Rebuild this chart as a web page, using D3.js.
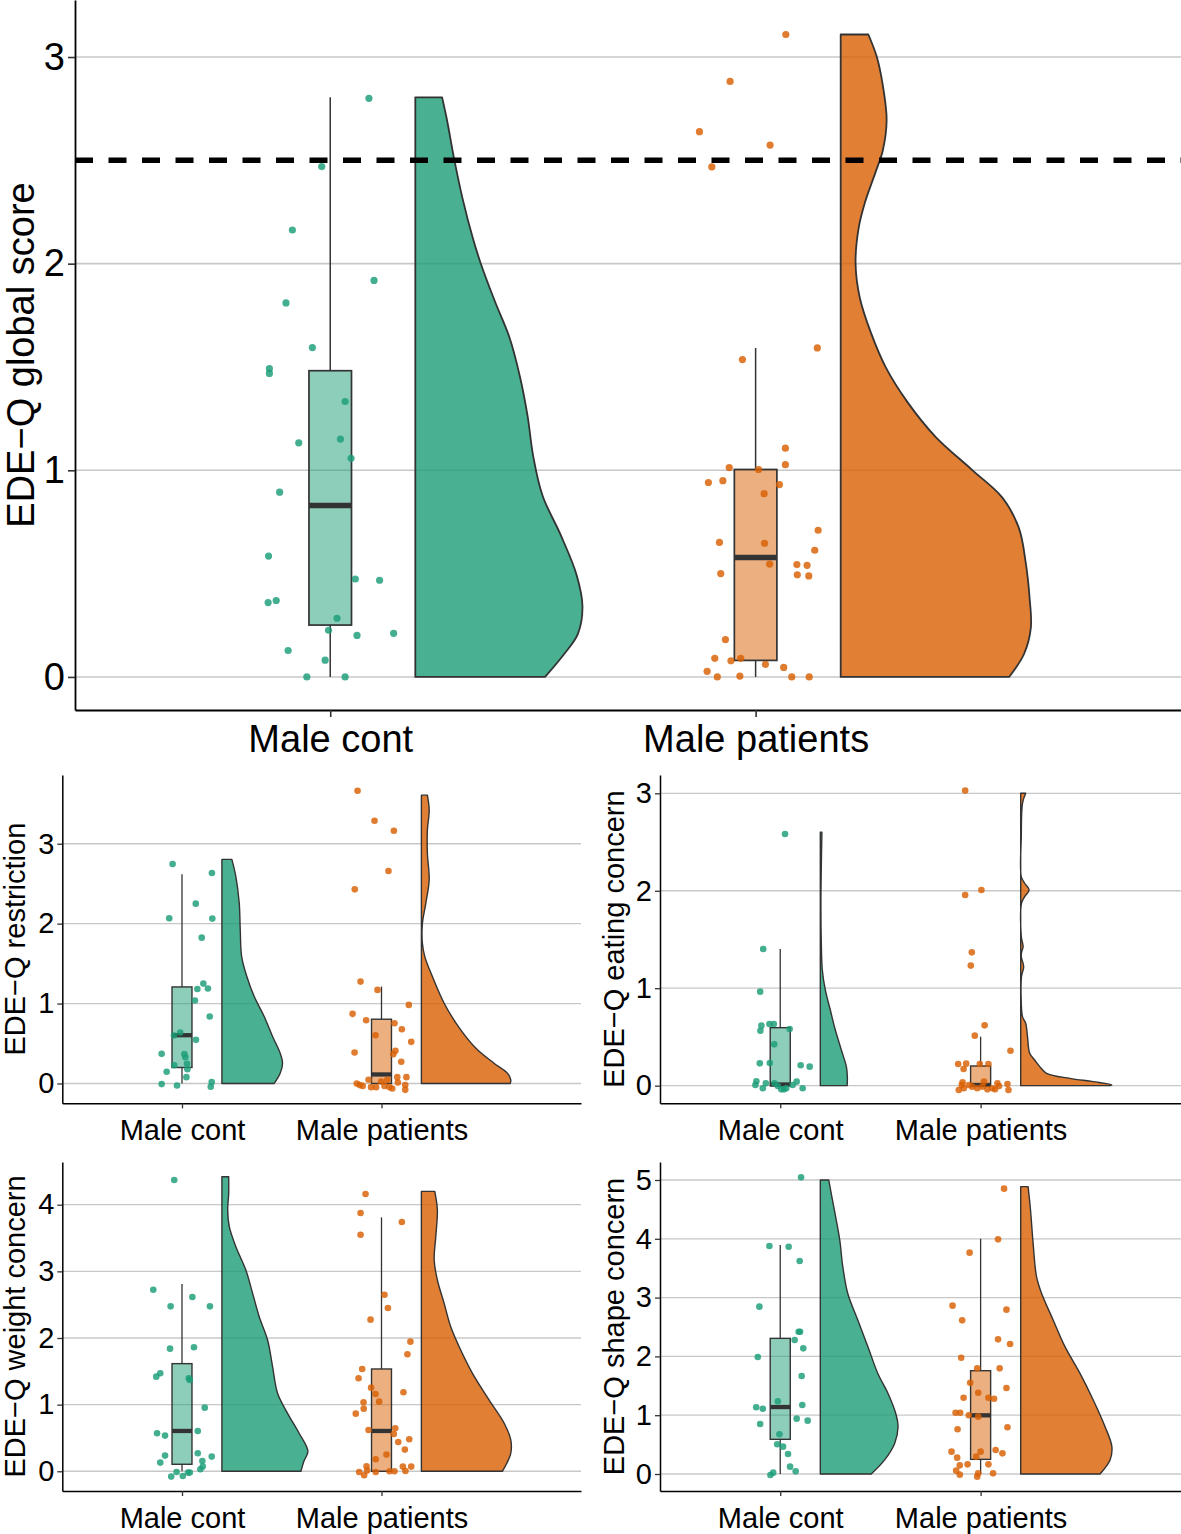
<!DOCTYPE html>
<html>
<head>
<meta charset="utf-8">
<script src="https://cdn.jsdelivr.net/npm/d3@7"></script>
<style>
  body { margin: 0; background: #fff; }
  text { font-family: "Liberation Sans", Arial, sans-serif; }
</style>
</head>
<body>
<div id="chart"></div>
<script>
// ---- data ----
var categories = ["Male cont", "Male patients"];
var colors = ["#1B9E77", "#D95F02"];

// points: [score, horizontal jitter in category units]
var globalContPts = [[2.80,.091],[2.47,-.020],[2.163,-.089],[1.919,.103],[1.81,-.104],[1.594,-.042],[1.492,-.143],[1.469,-.143],[1.333,.035],[1.133,-.074],[1.151,.024],[1.058,.049],[0.894,-.119],[0.585,-.145],[0.474,.059],[0.468,.116],[0.360,-.146],[0.370,-.127],[0.284,.016],[0.226,-.004],[0.201,.063],[0.211,.149],[0.128,-.099],[0.081,-.012],[0,-.055],[0,.035]];
var globalPatPts = [[3.109,.071],[2.882,-.060],[2.639,-.132],[2.574,.034],[2.468,-.103],[1.592,.145],[1.536,-.031],[1.107,.070],[1.027,.070],[1.013,-.062],[1.004,.007],[0.941,-.111],[0.950,-.077],[0.931,.056],[0.887,.020],[0.710,.147],[0.651,-.085],[0.647,.021],[0.613,.139],[0.546,.033],[0.544,.097],[0.540,.121],[0.5,-.082],[0.494,.098],[0.489,.125],[0.181,-.071],[0.09,-.096],[0.078,-.058],[0.09,-.035],[0.027,-.114],[0,-.090],[0.004,-.037],[0.061,.023],[0.046,.066],[0,.085],[0,.126]];
var restrContPts = [[2.746,-.047],[2.633,.150],[2.25,.069],[2.067,-.064],[2.063,.152],[1.825,.099],[1.25,.107],[1.183,.077],[1.188,.130],[1.038,.065],[0.838,.139],[0.638,-.009],[0.6,-.040],[0.546,.070],[0.371,-.102],[0.367,.012],[0.329,.017],[0.246,.025],[0.146,-.077],[0.229,-.039],[0.179,.027],[0.079,.022],[-0.008,-.102],[-0.025,-.025],[0.017,.149],[-0.04,.144]];
var restrPatPts = [[3.663,-.120],[3.288,-.035],[3.163,.062],[2.658,.035],[2.429,-.134],[1.275,-.105],[1.171,-.020],[0.983,.137],[0.871,-.145],[0.792,-.077],[0.754,.065],[0.679,.102],[0.604,-.030],[0.521,.149],[0.388,-.135],[0.408,.070],[0.367,.059],[0.271,.099],[0.079,.125],[0.079,.079],[0.046,-.065],[0,-.124],[-0.02,-.109],[-0.03,-.094],[-0.046,-.052],[-0.046,-.027],[-0.03,.015],[-0.046,.040],[-0.063,.054],[0.013,.082],[-0.02,.119],[-0.08,.119],[0.025,-.002],[0.046,.029]];
var eatContPts = [[2.583,.024],[1.403,-.085],[0.965,-.100],[0.616,-.094],[0.564,-.099],[0.633,-.054],[0.633,-.032],[0.582,.047],[0.424,-.030],[0.229,-.102],[0.233,-.052],[0.209,.102],[0.195,.147],[0.044,-.119],[0.007,-.124],[-0.027,-.087],[0.024,-.072],[0.024,-.029],[-0.038,.005],[-0.038,.019],[-0.027,.030],[0.007,.062],[0.041,.082],[-0.027,.112],[-0.003,-.012]];
var eatPatPts = [[3.028,-.077],[2.008,.004],[1.957,-.077],[1.368,-.044],[1.232,-.049],[0.619,.020],[0.513,-.029],[0.359,.149],[0.222,-.112],[0.226,-.072],[0.171,-.085],[0.222,-.004],[0.222,.039],[0.034,-.090],[0.007,-.094],[-0.044,-.109],[-0.027,-.084],[-0.01,-.042],[-0.027,-.017],[-0.01,.009],[-0.038,.034],[-0.027,.059],[0.024,.084],[-0.003,.092],[0.017,.134],[-0.044,.139],[-0.038,.072],[0.041,.017],[0.007,-.059]];
var weightContPts = [[4.37,-.039],[2.725,-.144],[2.615,.052],[2.475,-.057],[2.475,.140],[1.84,-.060],[1.86,.060],[1.42,-.129],[1.47,-.109],[1.395,.034],[1.37,.039],[0.955,.114],[0.57,-.125],[0.535,-.085],[0.605,.079],[0.27,.079],[0.235,-.085],[0.22,.149],[0.13,-.109],[0.155,.102],[0.07,.104],[0.03,.092],[-0.08,-.054],[-0.01,-.027],[-0.07,.004],[-0.02,.030],[-0.02,.039]];
var weightPatPts = [[4.16,-.080],[3.875,-.105],[3.74,.102],[3.55,-.105],[2.65,.015],[2.45,.032],[2.275,-.055],[1.945,.145],[1.755,.130],[1.535,-.097],[1.395,-.115],[1.255,-.052],[1.16,-.030],[1.185,.110],[1.045,-.012],[1.035,-.090],[0.94,-.089],[0.865,-.129],[0.62,-.065],[0.645,.069],[0.56,.062],[0.44,.084],[0.48,.139],[0.325,.117],[0.25,.025],[0.18,-.029],[0.075,-.075],[-0.01,-.112],[-0.06,-.087],[-0.01,-.029],[0,.040],[0,.065],[0.07,.107],[0.005,.120],[0.07,.149],[0.01,-.072]];
var shapeContPts = [[5.045,.104],[3.878,-.054],[3.866,.042],[3.622,.097],[2.846,-.104],[2.42,.099],[2.42,.092],[2.279,.072],[2.137,.115],[1.99,-.112],[1.667,.107],[1.236,-.012],[1.173,.110],[1.134,-.120],[1.111,-.087],[0.941,.082],[0.907,.137],[0.85,-.100],[0.675,-.004],[0.505,-.015],[0.465,.014],[0.34,.039],[0.125,.049],[0.045,.077],[-0.017,-.049],[0.023,-.035]];
var shapePatPts = [[4.853,.117],[3.991,.087],[3.764,-.055],[2.863,-.140],[2.795,.129],[2.613,-.092],[2.29,.087],[2.211,.147],[1.978,-.097],[1.797,.095],[1.797,-.017],[1.553,-.052],[1.463,.129],[1.383,-.012],[1.298,-.085],[1.298,.039],[1.281,.067],[1.043,-.125],[1.043,-.102],[0.998,-.059],[0.975,-.012],[0.76,-.115],[0.794,.134],[0.38,-.145],[0.408,.075],[0.351,.109],[0.38,0],[0.278,-.117],[0.295,-.022],[0.164,-.065],[0.147,-.104],[0.164,.039],[0.057,-.122],[-0.011,-.104],[0.011,-.012],[-0.045,-.017],[0.011,.062]];

// box stats: [lower whisker, q1, median, q3, upper whisker]
var globalContBox = [0, 0.251, 0.83, 1.482, 2.805];
var globalPatBox = [0, 0.08, 0.578, 1.004, 1.592];
var restrContBox = [0, 0.2, 0.604, 1.208, 2.617];
var restrPatBox = [0, 0, 0.113, 0.804, 1.213];
var eatContBox = [0, 0, 0.012, 0.595, 1.403];
var eatPatBox = [0, 0, 0.007, 0.202, 0.503];
var weightContBox = [0, 0.105, 0.605, 1.615, 2.81];
var weightPatBox = [0, 0, 0.605, 1.535, 3.81];
var shapeContBox = [0, 0.59, 1.139, 2.307, 3.895];
var shapePatBox = [0, 0.249, 0.998, 1.757, 4.0];

// half-violin outline: [score, density width in category units]
var globalContVio = [[2.805,.063],[2.70,.074],[2.50,.092],[2.316,.111],[2.125,.135],[2.0,.154],[1.818,.187],[1.645,.221],[1.453,.246],[1.262,.264],[1.07,.277],[0.878,.299],[0.686,.342],[0.495,.379],[0.341,.393],[0.207,.382],[0.111,.350],[0,.305]];
var globalPatVio = [[3.109,.065],[3.0,.085],[2.863,.099],[2.695,.108],[2.548,.099],[2.443,.082],[2.296,.057],[2.17,.042],[2.0,.035],[1.834,.045],[1.666,.071],[1.498,.106],[1.33,.157],[1.162,.223],[1.0,.310],[0.868,.380],[0.72,.419],[0.553,.435],[0.384,.444],[0.237,.447],[0.111,.431],[0,.396]];
var restrContVio = [[2.804,.050],[2.588,.070],[2.254,.087],[1.921,.092],[1.588,.099],[1.338,.125],[1.088,.162],[0.838,.212],[0.588,.254],[0.379,.292],[0.254,.304],[0.129,.292],[0,.262]];
var restrPatVio = [[3.608,.030],[3.42,.039],[3.17,.030],[2.88,.030],[2.546,.039],[2.254,.022],[2.0,.005],[1.754,.005],[1.588,.017],[1.338,.055],[1.004,.114],[0.671,.197],[0.421,.281],[0.254,.364],[0.129,.431],[0.046,.448],[0,.445]];
var eatContVio = [[2.6,.008],[1.871,.003],[1.46,.005],[1.187,.010],[0.982,.025],[0.776,.050],[0.571,.075],[0.366,.105],[0.195,.130],[0.092,.135],[0,.134]];
var eatPatVio = [[3.0,.025],[2.898,.009],[2.556,.003],[2.145,.003],[2.077,.020],[2.008,.042],[1.94,.020],[1.871,.004],[1.529,.003],[1.426,.012],[1.375,.005],[1.324,.003],[1.221,.015],[1.12,.004],[0.845,.003],[0.708,.009],[0.64,.025],[0.503,.034],[0.332,.045],[0.263,.070],[0.195,.095],[0.127,.129],[0.075,.246],[0.041,.362],[0.007,.455],[0,.446]];
var weightContVio = [[4.42,.034],[4.17,.034],[3.92,.029],[3.67,.037],[3.37,.070],[3.02,.120],[2.67,.154],[2.32,.187],[1.97,.229],[1.57,.254],[1.17,.279],[0.87,.329],[0.57,.387],[0.3,.431],[0.15,.411],[0,.396]];
var weightPatVio = [[4.2,.067],[3.92,.080],[3.52,.072],[3.17,.064],[2.87,.080],[2.52,.114],[2.17,.147],[1.82,.197],[1.47,.256],[1.07,.339],[0.72,.415],[0.47,.448],[0.27,.448],[0.12,.428],[0,.406]];
var shapeContVio = [[5.0,.042],[4.49,.070],[3.98,.097],[3.53,.112],[3.07,.137],[2.62,.187],[2.17,.237],[1.71,.287],[1.37,.338],[1.0,.379],[0.805,.388],[0.52,.371],[0.24,.321],[0,.254]];
var shapePatVio = [[4.887,.037],[4.49,.049],[3.923,.062],[3.356,.079],[3.073,.104],[2.619,.162],[2.166,.221],[1.712,.296],[1.259,.362],[0.805,.421],[0.465,.455],[0.238,.446],[0,.396]];

var cutoff = 2.5; // dashed reference line, global score

// ---- layout ----
var width = 1181, height = 1534;
var panels = [
  {title: "EDE\u2212Q global score", left: 75, right: 1181, top: 0, bottom: 710, yDom: [-0.16, 3.276], ticks: [0,1,2,3],
   big: true, titleX: 34, groups: [[globalContPts, globalContBox, globalContVio], [globalPatPts, globalPatBox, globalPatVio]]},
  {title: "EDE\u2212Q restriction", left: 62.3, right: 581, top: 775, bottom: 1103.3, yDom: [-0.248, 3.86], ticks: [0,1,2,3],
   titleX: 25, groups: [[restrContPts, restrContBox, restrContVio], [restrPatPts, restrPatBox, restrPatVio]]},
  {title: "EDE\u2212Q eating concern", left: 660, right: 1181, top: 775, bottom: 1103.3, yDom: [-0.181, 3.188], ticks: [0,1,2,3],
   titleX: 624, groups: [[eatContPts, eatContBox, eatContVio], [eatPatPts, eatPatBox, eatPatVio]]},
  {title: "EDE\u2212Q weight concern", left: 62.3, right: 581, top: 1162, bottom: 1491, yDom: [-0.296, 4.641], ticks: [0,1,2,3,4],
   titleX: 25, groups: [[weightContPts, weightContBox, weightContVio], [weightPatPts, weightPatBox, weightPatVio]]},
  {title: "EDE\u2212Q shape concern", left: 660, right: 1181, top: 1162, bottom: 1491, yDom: [-0.289, 5.306], ticks: [0,1,2,3,4,5],
   titleX: 624, groups: [[shapeContPts, shapeContBox, shapeContVio], [shapePatPts, shapePatBox, shapePatVio]]}
];

var svg = d3.select("#chart").append("svg")
    .attr("width", width)
    .attr("height", height)
    .style("background", "#fff");

panels.forEach(function(p) {
  var big = !!p.big;
  var fs = big ? 38 : 29;
  var x = d3.scaleLinear().domain([0.4, 3.0]).range([p.left, p.right]);
  var y = d3.scaleLinear().domain(p.yDom).range([p.bottom, p.top]);
  var g = svg.append("g");

  // horizontal grid
  g.append("g").selectAll("line")
    .data(p.ticks)
    .join("line")
      .attr("x1", p.left).attr("x2", p.right)
      .attr("y1", d => y(d)).attr("y2", d => y(d))
      .attr("stroke", "#c8c8c8")
      .attr("stroke-width", big ? 1.6 : 1.3);

  p.groups.forEach(function(grp, i) {
    var pos = i + 1, col = colors[i];
    var pts = grp[0], box = grp[1], vio = grp[2];

    // half violin
    var area = d3.area()
      .curve(d3.curveCatmullRom.alpha(0.5))
      .y(d => y(d[0]))
      .x0(x(pos + 0.2))
      .x1(d => x(pos + 0.2 + d[1]));
    g.append("path")
      .datum(vio)
      .attr("d", d => area(d) + "Z")
      .attr("fill", col)
      .attr("fill-opacity", 0.8)
      .attr("stroke", "#333")
      .attr("stroke-width", big ? 1.8 : 1.4)
      .attr("stroke-linejoin", "round");

    // box
    var bw = x(pos + 0.05) - x(pos);
    var cx = x(pos);
    g.append("line")
      .attr("x1", cx).attr("x2", cx)
      .attr("y1", y(box[3])).attr("y2", y(box[4]))
      .attr("stroke", "#333").attr("stroke-width", big ? 1.5 : 1.3);
    g.append("line")
      .attr("x1", cx).attr("x2", cx)
      .attr("y1", y(box[0])).attr("y2", y(box[1]))
      .attr("stroke", "#333").attr("stroke-width", big ? 1.5 : 1.3);
    g.append("rect")
      .attr("x", cx - bw).attr("width", 2 * bw)
      .attr("y", y(box[3])).attr("height", Math.max(0, y(box[1]) - y(box[3])))
      .attr("fill", col).attr("fill-opacity", 0.5)
      .attr("stroke", "#333").attr("stroke-width", big ? 1.7 : 1.4);
    g.append("line")
      .attr("x1", cx - bw).attr("x2", cx + bw)
      .attr("y1", y(box[2])).attr("y2", y(box[2]))
      .attr("stroke", "#333").attr("stroke-width", big ? 5.5 : 4.3);

    // jittered points
    g.append("g").selectAll("circle")
      .data(pts)
      .join("circle")
        .attr("cx", d => x(pos + d[1]))
        .attr("cy", d => y(d[0]))
        .attr("r", big ? 3.6 : 3.3)
        .attr("fill", col)
        .attr("fill-opacity", 0.82);
  });

  if (big) {
    g.append("line")
      .attr("x1", p.left).attr("x2", p.right)
      .attr("y1", y(cutoff)).attr("y2", y(cutoff))
      .attr("stroke", "#000")
      .attr("stroke-width", 5.5)
      .attr("stroke-dasharray", "18,15.5");
  }

  // axes
  var yAxis = d3.axisLeft(y).tickValues(p.ticks).tickFormat(d3.format("d"))
    .tickSize(big ? 7 : 5).tickSizeOuter(0).tickPadding(3);
  var xAxis = d3.axisBottom(x).tickValues([1, 2]).tickFormat(d => categories[d - 1])
    .tickSize(big ? 7 : 5).tickSizeOuter(0).tickPadding(big ? 7.6 : 11.3);

  var ya = g.append("g").attr("transform", "translate(" + p.left + ",0)").call(yAxis);
  var xa = g.append("g").attr("transform", "translate(0," + p.bottom + ")").call(xAxis);
  [ya, xa].forEach(function(a) {
    a.attr("font-family", null).attr("font-size", null);
    a.select(".domain").attr("stroke", "#000").attr("stroke-width", big ? 1.8 : 1.5);
    a.selectAll(".tick line").attr("stroke", "#333").attr("stroke-width", big ? 1.6 : 1.3);
    a.selectAll(".tick text")
      .style("font-family", "'Liberation Sans', Arial, sans-serif")
      .style("font-size", fs + "px")
      .attr("fill", "#000");
  });

  // y title
  g.append("text")
    .attr("transform", "translate(" + p.titleX + "," + ((p.top + p.bottom) / 2) + ") rotate(-90)")
    .attr("text-anchor", "middle")
    .style("font-size", fs + "px")
    .attr("fill", "#000")
    .text(p.title);
});
</script>
</body>
</html>
